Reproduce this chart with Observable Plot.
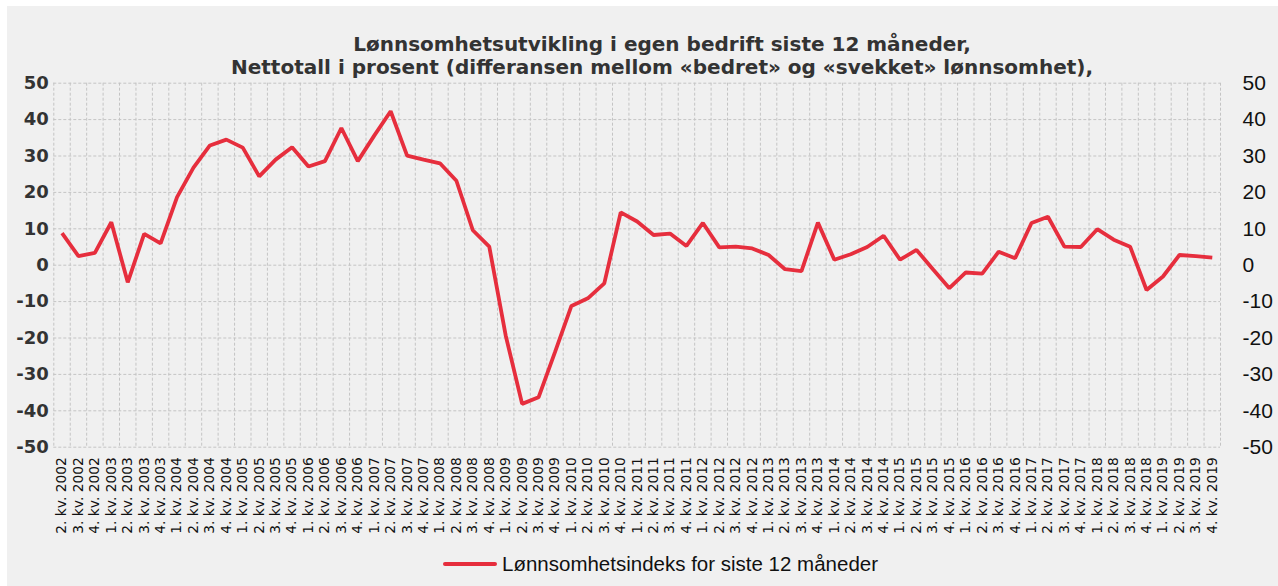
<!DOCTYPE html>
<html>
<head>
<meta charset="utf-8">
<script src="https://cdn.jsdelivr.net/npm/d3@7"></script>
<script src="https://cdn.jsdelivr.net/npm/@observablehq/plot@0.6"></script>
<style>
  html, body { margin: 0; padding: 0; background: #ffffff; }
  #page { position: relative; width: 1278px; height: 586px; background: #ffffff; overflow: hidden; }
  #panel { position: absolute; left: 7px; top: 6px; right: 0; bottom: 0; background: #f0f0f0; }
  #title { position: absolute; left: 162px; width: 1000px; top: 33px; text-align: center;
           font-family: "DejaVu Sans", sans-serif; font-weight: bold; font-size: 20px; line-height: 23px; color: #333333; }
  #chart { position: absolute; left: 0; top: 78px; }
  #legend { position: absolute; left: 443px; top: 551px; height: 26px; display: flex; align-items: center;
            font-family: "Liberation Sans", Arial, sans-serif; font-size: 20.5px; color: #111111; }
  #legend .swatch { width: 54px; height: 4px; background: #e62e3d; margin-right: 5px; border-radius: 2px; }
</style>
</head>
<body>
<div id="page">
  <div id="panel"></div>
  <div id="title">Lønnsomhetsutvikling i egen bedrift siste 12 måneder,<br>Nettotall i prosent (differansen mellom «bedret» og «svekket» lønnsomhet),</div>
  <div id="chart"></div>
  <div id="legend"><div class="swatch"></div><span>Lønnsomhetsindeks for siste 12 måneder</span></div>
</div>
<script>
// Quarter labels, 2. kv. 2002 – 4. kv. 2019
const years = [2002, 2003, 2004, 2005, 2006, 2007, 2008, 2009, 2010, 2011, 2012, 2013, 2014, 2015, 2016, 2017, 2018, 2019];
const quarterNames = ["1. kv.", "2. kv.", "3. kv.", "4. kv."];
const quarters = [];
for (const y of years) for (const q of quarterNames) {
  if (y === 2002 && q === "1. kv.") continue;
  quarters.push(q + " " + y);
}

// Lønnsomhetsindeks for siste 12 måneder (nettotall, prosent)
const indexValues = [
  8.8, 2.5, 3.4,                 // 2002 Q2-Q4
  11.8, -4.7, 8.6, 6.0,          // 2003
  18.7, 26.8, 32.9, 34.5,        // 2004
  32.3, 24.4, 29.0, 32.4,        // 2005
  27.1, 28.6, 37.7, 28.6,        // 2006
  35.6, 42.3, 30.1, 29.0,        // 2007
  28.0, 23.2, 9.6, 5.1,          // 2008
  -19.3, -38.1, -36.3, -23.9,    // 2009
  -11.2, -9.1, -5.0, 14.5,       // 2010
  12.0, 8.3, 8.7, 5.3,           // 2011
  11.6, 4.9, 5.1, 4.6,           // 2012
  2.8, -1.1, -1.6, 11.7,         // 2013
  1.5, 3.0, 5.0, 8.1,            // 2014
  1.5, 4.2, -1.1, -6.3,          // 2015
  -2.0, -2.3, 3.7, 1.9,          // 2016
  11.6, 13.3, 5.1, 5.0,          // 2017
  9.9, 7.0, 5.1, -6.8,           // 2018
  -3.1, 2.8, 2.5, 2.1            // 2019
];

const yTicks = [-50, -40, -30, -20, -10, 0, 10, 20, 30, 40, 50];

const data = quarters.map((q, i) => ({i, q, v: indexValues[i]}));
const idx = d3.range(quarters.length);
const edges = d3.range(quarters.length + 1);

const gridColor = "#c4c4c4";
const plainNum = d => String(d);

const chart = Plot.plot({
  width: 1278,
  height: 467,
  marginLeft: 53.3,
  marginRight: 58,
  marginTop: 4.7,
  marginBottom: 98.3,
  style: {background: "transparent", overflow: "visible", fontFamily: "DejaVu Sans, sans-serif"},
  x: {type: "linear", domain: [-0.5, quarters.length - 0.5]},
  y: {type: "linear", domain: [-50, 50]},
  marks: [
    Plot.ruleY(yTicks, {y: d => d, stroke: gridColor, strokeWidth: 1, strokeDasharray: "3,2"}),
    Plot.ruleX(edges, {x: d => d - 0.5, stroke: gridColor, strokeWidth: 1, strokeDasharray: "3,2"}),
    Plot.axisY({anchor: "left", ticks: yTicks, tickFormat: plainNum, tickSize: 0, tickPadding: 5, label: null,
                fontFamily: "DejaVu Sans, sans-serif", fontWeight: "bold", fontSize: 18, color: "#333333"}),
    Plot.axisY({anchor: "right", ticks: yTicks, tickFormat: plainNum, tickSize: 0, tickPadding: 22, label: null,
                fontFamily: "Liberation Sans, Arial, sans-serif", fontSize: 21, color: "#111111"}),
    Plot.axisX({ticks: idx, tickFormat: i => quarters[i], tickRotate: -90, tickSize: 0, tickPadding: 10,
                label: null, fontFamily: "DejaVu Sans, sans-serif", fontSize: 13.8, color: "#111111"}),
    Plot.line(data, {x: "i", y: "v", stroke: "#e62e3d", strokeWidth: 3.8, strokeLinejoin: "miter", strokeLinecap: "butt"})
  ]
});
document.getElementById("chart").appendChild(chart);
</script>
</body>
</html>
